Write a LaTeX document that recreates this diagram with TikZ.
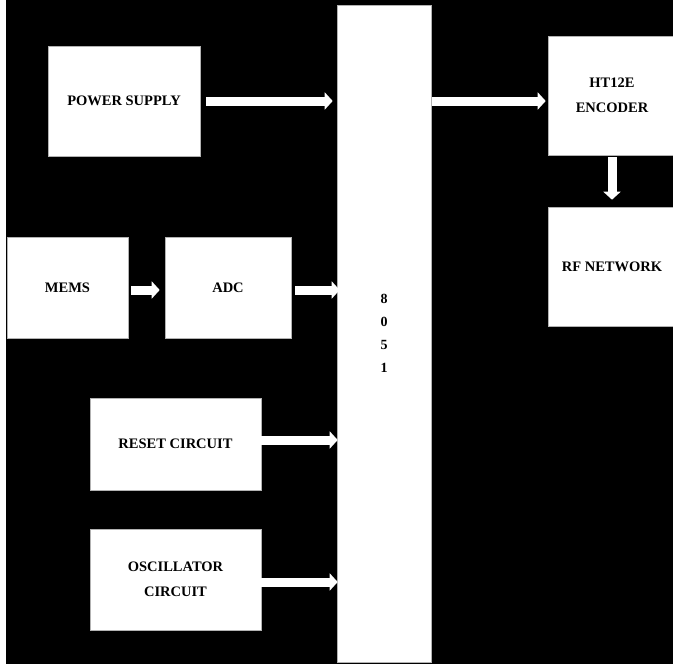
\documentclass[tikz,border=0pt]{standalone}
\usepackage{fontspec}
\setmainfont{Liberation Serif}
\usepackage{tikz}
\usetikzlibrary{arrows.meta,positioning,calc}

\begin{document}
\begin{tikzpicture}[
    x=1pt, y=-1pt,
    block/.style={rectangle, draw=gray!60, line width=0.6pt, fill=white, align=center, inner sep=2pt,
                  font=\bfseries\fontsize{14.5}{25}\selectfont},
    flow/.style={draw=white, line width=9pt, -{Triangle[length=8pt,width=17pt]}}
]
    % canvas
    \useasboundingbox (0,0) rectangle (673,664);
    \fill[white] (0,0) rectangle (673,664);
    \fill[black] (6,0) rectangle (673,664);

    % Blocks
    \node (psu) [block, minimum width=152pt, minimum height=110pt] at (124,101) {POWER SUPPLY};
    \node (mcu) [block, minimum width=94pt, minimum height=657pt, font=\bfseries\fontsize{14}{23}\selectfont] at (384,333.5) {8\\0\\5\\1};
    \node (enc) [block, minimum width=128pt, minimum height=119pt] at (612,95.5) {HT12E\\ENCODER};
    \node (rf) [block, minimum width=128pt, minimum height=119pt] at (612,266.5) {RF NETWORK};
    \node (mems) [block, minimum width=121pt, minimum height=101pt] at (67.5,287.5) {MEMS};
    \node (adc) [block, minimum width=126pt, minimum height=101pt] at (228,287.5) {ADC};
    \node (rst) [block, minimum width=171pt, minimum height=92pt] at (175.5,444) {RESET CIRCUIT};
    \node (osc) [block, minimum width=171pt, minimum height=101pt] at (175.5,579.5) {OSCILLATOR\\CIRCUIT};

    % Arrows
    \draw [flow, shorten <=6pt, shorten >=4pt] (psu.east) -- (psu.east -| mcu.west);
    \draw [flow, shorten <=1pt, shorten >=2pt] (mcu.east |- psu.east) -- (enc.west |- psu.east);
    \draw [flow, shorten <=2pt, shorten >=7pt] (enc.south) -- (rf.north);
    \draw [flow, shorten <=3pt, shorten >=5pt] ([yshift=-2.5pt]mems.east) -- ([yshift=-2.5pt]adc.west);
    \draw [flow, shorten <=4pt, shorten >=-3pt] ([yshift=-2.5pt]adc.east) -- ([yshift=-2.5pt]adc.east -| mcu.west);
    \draw [flow, shorten <=-2pt, shorten >=-1pt] ([yshift=4pt]rst.east) -- ([yshift=4pt]rst.east -| mcu.west);
    \draw [flow, shorten <=-2pt, shorten >=-1pt] ([yshift=-2.5pt]osc.east) -- ([yshift=-2.5pt]osc.east -| mcu.west);
\end{tikzpicture}
\end{document}
